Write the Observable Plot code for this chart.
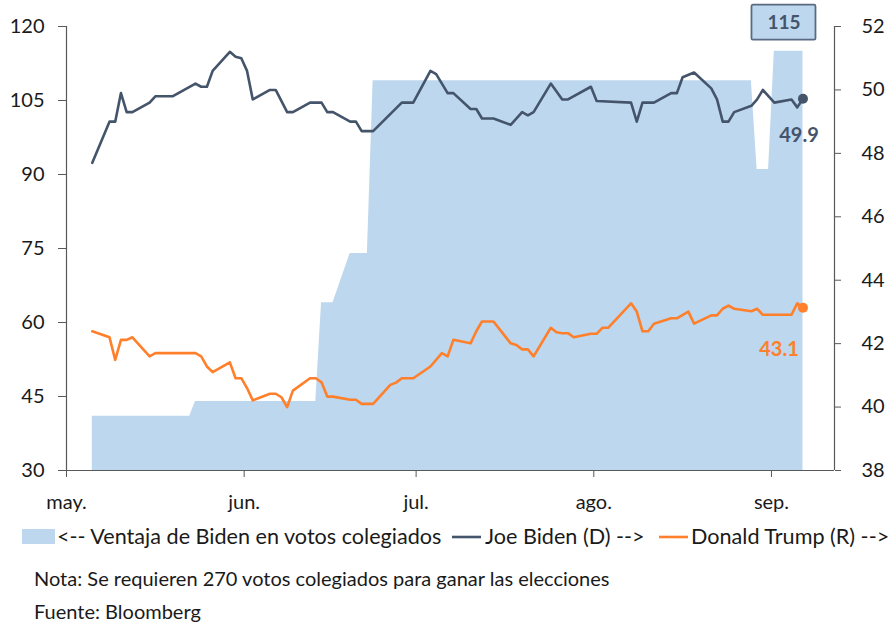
<!DOCTYPE html>
<html>
<head>
<meta charset="utf-8">
<script src="https://cdn.jsdelivr.net/npm/d3@7"></script>
<script src="https://cdn.jsdelivr.net/npm/@observablehq/plot@0.6"></script>
<style>
  html, body { margin: 0; padding: 0; background: #fff; }
  body { width: 888px; height: 624px; overflow: hidden; font-family: Lato, "Open Sans", sans-serif; }
  #chart svg { display: block; }
</style>
</head>
<body>
<div id="chart"></div>
<script>
// ---- data ----
const monthTicks = ["2020-05-01", "2020-06-01", "2020-07-01", "2020-08-01", "2020-09-01"];
const monthLabels = ["may.", "jun.", "jul.", "ago.", "sep."];

// Biden's electoral-vote advantage (left axis)
const areaDates = ["2020-05-05","2020-05-22","2020-05-23","2020-06-13","2020-06-14","2020-06-16","2020-06-19","2020-06-22","2020-06-23","2020-08-28","2020-08-29","2020-08-31","2020-09-01","2020-09-06"];
const areaValues = [41, 41, 44, 44, 64, 64, 74, 74, 109, 109, 91, 91, 115, 115];

// Joe Biden (right axis, %)
const bidenDates = ["2020-05-05","2020-05-08","2020-05-09","2020-05-10","2020-05-11","2020-05-12","2020-05-15","2020-05-16","2020-05-19","2020-05-23","2020-05-24","2020-05-25","2020-05-26","2020-05-29","2020-05-30","2020-05-31","2020-06-01","2020-06-02","2020-06-05","2020-06-06","2020-06-08","2020-06-09","2020-06-12","2020-06-14","2020-06-15","2020-06-16","2020-06-19","2020-06-20","2020-06-21","2020-06-23","2020-06-28","2020-06-30","2020-07-03","2020-07-04","2020-07-06","2020-07-07","2020-07-10","2020-07-11","2020-07-12","2020-07-14","2020-07-17","2020-07-19","2020-07-20","2020-07-21","2020-07-24","2020-07-26","2020-07-27","2020-07-31","2020-08-01","2020-08-07","2020-08-08","2020-08-09","2020-08-11","2020-08-14","2020-08-15","2020-08-16","2020-08-18","2020-08-21","2020-08-22","2020-08-23","2020-08-24","2020-08-25","2020-08-28","2020-08-29","2020-08-30","2020-09-01","2020-09-04","2020-09-05","2020-09-06"];
const bidenValues = [47.7,49.0,49.0,49.9,49.3,49.3,49.6,49.8,49.8,50.2,50.1,50.1,50.6,51.2,51.05,51.0,50.6,49.7,50.0,50.0,49.3,49.3,49.6,49.6,49.3,49.3,49.0,49.0,48.7,48.7,49.6,49.6,50.6,50.5,49.9,49.9,49.4,49.4,49.1,49.1,48.9,49.3,49.2,49.3,50.2,49.7,49.7,50.1,49.65,49.6,49.0,49.6,49.6,49.9,49.9,50.4,50.55,50.05,49.7,49.0,49.0,49.3,49.5,49.7,50.0,49.6,49.7,49.45,49.72];

// Donald Trump (right axis, %)
const trumpDates = ["2020-05-05","2020-05-08","2020-05-09","2020-05-10","2020-05-11","2020-05-12","2020-05-15","2020-05-16","2020-05-23","2020-05-24","2020-05-25","2020-05-26","2020-05-29","2020-05-30","2020-05-31","2020-06-01","2020-06-02","2020-06-05","2020-06-06","2020-06-07","2020-06-08","2020-06-09","2020-06-12","2020-06-13","2020-06-14","2020-06-15","2020-06-16","2020-06-19","2020-06-20","2020-06-21","2020-06-23","2020-06-26","2020-06-27","2020-06-28","2020-06-30","2020-07-03","2020-07-05","2020-07-06","2020-07-07","2020-07-10","2020-07-11","2020-07-12","2020-07-14","2020-07-17","2020-07-18","2020-07-19","2020-07-20","2020-07-21","2020-07-24","2020-07-25","2020-07-26","2020-07-27","2020-07-28","2020-07-31","2020-08-01","2020-08-02","2020-08-03","2020-08-07","2020-08-08","2020-08-09","2020-08-10","2020-08-11","2020-08-14","2020-08-15","2020-08-17","2020-08-18","2020-08-21","2020-08-22","2020-08-23","2020-08-24","2020-08-25","2020-08-28","2020-08-29","2020-08-30","2020-09-04","2020-09-05","2020-09-06"];
const trumpValues = [42.39,42.2,41.49,42.12,42.12,42.2,41.6,41.7,41.7,41.6,41.28,41.1,41.41,40.91,40.91,40.6,40.21,40.42,40.42,40.31,40.0,40.52,40.91,40.91,40.78,40.33,40.33,40.23,40.23,40.1,40.1,40.7,40.77,40.91,40.91,41.28,41.7,41.6,42.12,42.01,42.39,42.7,42.7,42.01,41.96,41.82,41.82,41.6,42.5,42.36,42.33,42.33,42.2,42.31,42.31,42.5,42.5,43.27,43.01,42.39,42.39,42.63,42.8,42.8,43.01,42.63,42.89,42.89,43.1,43.2,43.1,43.02,43.1,42.91,42.91,43.27,43.13];

const leftTicks = [30, 45, 60, 75, 90, 105, 120];
const rightTicks = [38, 40, 42, 44, 46, 48, 50, 52];
const endLabels = {area: "115", biden: "49.9", trump: "43.1"};
const legendLabels = ["<-- Ventaja de Biden en votos colegiados", "Joe Biden (D) -->", "Donald Trump (R) -->"];
const notes = ["Nota: Se requieren 270 votos colegiados para ganar las elecciones", "Fuente: Bloomberg"];

// ---- helpers ----
const mid = s => new Date(s + "T12:00:00Z");   // points sit mid-day
const day = s => new Date(s + "T00:00:00Z");
const L0 = 30, L1 = 120, R0 = 38, R1 = 52;
const toLeft = r => L0 + (r - R0) * (L1 - L0) / (R1 - R0);
const toRight = l => R0 + (l - L0) * (R1 - R0) / (L1 - L0);

const area = areaDates.map((d, i) => ({date: mid(d), v: areaValues[i]}));
const biden = bidenDates.map((d, i) => ({date: mid(d), v: bidenValues[i]}));
const trump = trumpDates.map((d, i) => ({date: mid(d), v: trumpValues[i]}));

const C_AREA = "#BDD7EE", C_BIDEN = "#44546A", C_TRUMP = "#FF7F2A", C_AXIS = "#595959", C_TEXT = "#1a1a1a";
const xDomain = [day("2020-05-01"), day("2020-09-12")];

const chart = Plot.plot({
  width: 888,
  height: 520,
  marginTop: 26,
  marginBottom: 50,
  marginLeft: 66,
  marginRight: 54,
  style: {fontFamily: "Lato, 'Open Sans', sans-serif", fontSize: "20px", color: C_TEXT, background: "#fff"},
  x: {type: "utc", domain: xDomain},
  y: {domain: [L0, L1]},
  marks: [
    Plot.areaY(area, {x: "date", y1: L0, y2: "v", fill: C_AREA}),
    Plot.ruleX([xDomain[0]], {stroke: C_AXIS, strokeWidth: 1.2}),
    Plot.ruleX([xDomain[1]], {stroke: C_AXIS, strokeWidth: 1.2}),
    Plot.ruleY([L0], {stroke: C_AXIS, strokeWidth: 1.2}),
    Plot.axisY(leftTicks, {anchor: "left", tickSize: 8, tickPadding: 14, stroke: C_AXIS, fill: C_TEXT, label: null}),
    Plot.axisY(rightTicks.map(toLeft), {anchor: "right", tickSize: 6, tickPadding: 21, stroke: C_AXIS, fill: C_TEXT, label: null,
      tickFormat: d => String(Math.round(toRight(d)))}),
    Plot.axisX(monthTicks.map(day), {anchor: "bottom", tickSize: 7, tickPadding: 17, stroke: C_AXIS, fill: C_TEXT, label: null,
      tickFormat: d => monthLabels[d.getUTCMonth() - 4]}),
    Plot.lineY(biden, {x: "date", y: d => toLeft(d.v), stroke: C_BIDEN, strokeWidth: 2.6}),
    Plot.lineY(trump, {x: "date", y: d => toLeft(d.v), stroke: C_TRUMP, strokeWidth: 2.6}),
    Plot.dot([biden[biden.length - 1]], {x: "date", y: d => toLeft(d.v), r: 5, fill: C_BIDEN}),
    Plot.dot([trump[trump.length - 1]], {x: "date", y: d => toLeft(d.v), r: 5, fill: C_TRUMP}),
    Plot.text([biden[biden.length - 1]], {x: "date", y: d => toLeft(d.v), text: () => endLabels.biden, dx: -4, dy: 37,
      fill: C_BIDEN, fontWeight: "bold", fontSize: 20}),
    Plot.text([trump[trump.length - 1]], {x: "date", y: d => toLeft(d.v), text: () => endLabels.trump, dx: -24, dy: 42,
      fill: C_TRUMP, fontWeight: "bold", fontSize: 20}),
    Plot.text([area[area.length - 1]], {x: "date", y: "v", text: () => endLabels.area, dx: -19, dy: -28,
      fill: C_BIDEN, fontWeight: "bold", fontSize: 19, className: "box-label"})
  ]
});
document.getElementById("chart").appendChild(chart);

// box behind the "115" label
{
  const sx = chart.scale("x"), sy = chart.scale("y");
  const last = area[area.length - 1];
  const cx = sx.apply(last.date) - 19, cy = sy.apply(last.v) - 28;
  d3.select(chart).insert("rect", "g.box-label")
    .attr("x", cx - 32).attr("y", cy - 18).attr("width", 64).attr("height", 35)
    .attr("fill", C_AREA).attr("stroke", "#5a6a80").attr("stroke-width", 1.8).attr("rx", 1.5);
}

// legend + notes below the plot
{
  const svg = d3.select("body").append("svg").attr("width", 888).attr("height", 104)
    .style("display", "block").style("font-family", "Lato, 'Open Sans', sans-serif").style("fill", C_TEXT);
  svg.append("rect").attr("x", 22).attr("y", 9).attr("width", 33).attr("height", 15).attr("fill", C_AREA);
  svg.append("text").attr("x", 57).attr("y", 24).attr("font-size", 21.6).text(legendLabels[0]);
  svg.append("line").attr("x1", 452).attr("x2", 481).attr("y1", 17).attr("y2", 17).attr("stroke", C_BIDEN).attr("stroke-width", 2.6);
  svg.append("text").attr("x", 485).attr("y", 24).attr("font-size", 21.6).text(legendLabels[1]);
  svg.append("line").attr("x1", 659).attr("x2", 688).attr("y1", 17).attr("y2", 17).attr("stroke", C_TRUMP).attr("stroke-width", 2.6);
  svg.append("text").attr("x", 691).attr("y", 24).attr("font-size", 21.6).text(legendLabels[2]);
  svg.append("text").attr("x", 34).attr("y", 66).attr("font-size", 20).text(notes[0]);
  svg.append("text").attr("x", 34).attr("y", 99).attr("font-size", 20).text(notes[1]);
}
</script>
</body>
</html>
